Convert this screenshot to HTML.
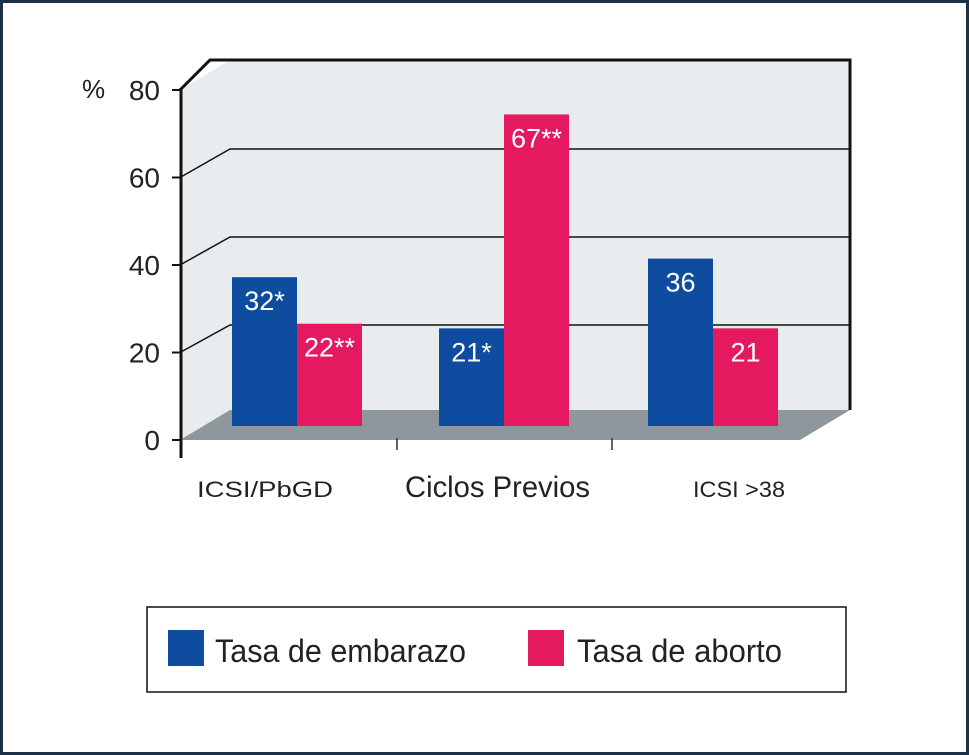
<!DOCTYPE html>
<html><head><meta charset="utf-8"><style>
body{margin:0;background:#fff}
svg{display:block;font-family:"Liberation Sans Narrow","Liberation Sans",sans-serif}
</style></head><body>
<svg id="c" width="969" height="755" viewBox="0 0 969 755">
<rect x="1.5" y="1.5" width="966" height="752" fill="#fff" stroke="#1c3148" stroke-width="3"/>
</svg>
<script>
const categories=["ICSI/PbGD","Ciclos Previos","ICSI >38"];
const embarazo=[32,21,36];
const aborto=[22,67,21];
const embarazoLabels=["32*","21*","36"];
const abortoLabels=["22**","67**","21"];
const yTicks=[0,20,40,60,80];
const svg=document.getElementById('c');
const NS='http://www.w3.org/2000/svg';
function el(t,a,txt){const e=document.createElementNS(NS,t);for(const k in a)e.setAttribute(k,a[k]);if(txt!=null)e.textContent=txt;svg.appendChild(e);return e;}
const yFront=v=>440-v*4.375;
const yBack=v=>413-v*4.4;
const yBar=v=>426-v*4.65;
let w=el('polygon',{points:"230,60 850,60 850,410 230,410 180,440 180,90",fill:"#e8ecef"});


yTicks.slice(1,4).forEach(v=>{
 let g=el('polyline',{points:`180,${yFront(v)} 230,${yBack(v)} 850,${yBack(v)}`,fill:"none",stroke:"#111","stroke-width":1.5});
 
 
});
let f=el('polygon',{points:"230,410 850,410 800,440 180,440",fill:"#8d979c"});


let fr=el('polyline',{points:`180,${yFront(80)} 210,60 850,60 850,410`,fill:"none",stroke:"#111","stroke-width":3});


let ax=el('line',{x1:181,y1:88,x2:181,y2:458,stroke:"#111","stroke-width":3});


yTicks.forEach(v=>{
 let t=el('line',{x1:172,y1:yFront(v),x2:181,y2:yFront(v),stroke:"#111","stroke-width":2});
 
 
 let l=el('text',{x:160,y:yFront(v)+10,"text-anchor":"end","font-size":28,fill:"#222"},v);
 
 
});
let pc=el('text',{x:82,y:98,"font-size":26,fill:"#222"},"%");


[397,612].forEach(x=>{let t=el('line',{x1:x,y1:438,x2:x,y2:450,stroke:"#333","stroke-width":1.5});
 
 });
const gx=[232,439,648], bw=65;
const catX=[197,405,693], catW=[136,185,92], catSize=[22,30,22];
categories.forEach((c,i)=>{
 let b=el('rect',{x:gx[i],y:yBar(embarazo[i]),width:bw,height:426-yBar(embarazo[i]),fill:"#0d4c9e"});
 
 
 let p=el('rect',{x:gx[i]+bw,y:yBar(aborto[i]),width:bw,height:426-yBar(aborto[i]),fill:"#e4195f"});
 
 
 let t1=el('text',{x:gx[i]+bw/2,y:yBar(embarazo[i])+33,"text-anchor":"middle","font-size":27,fill:"#fff"},embarazoLabels[i]);
 
 
 let t2=el('text',{x:gx[i]+bw*1.5,y:yBar(aborto[i])+33,"text-anchor":"middle","font-size":27,fill:"#fff"},abortoLabels[i]);
 
 
 let cl=el('text',{x:catX[i],y:497,"font-size":catSize[i],fill:"#222",textLength:catW[i],lengthAdjust:"spacingAndGlyphs"},c);
 
 
});
let lg=el('rect',{x:147,y:607,width:699,height:85,fill:"#fff",stroke:"#111","stroke-width":1.5});


let s1=el('rect',{x:168,y:630,width:36,height:36,fill:"#0d4c9e"});


let l1=el('text',{x:215,y:662,"font-size":32,fill:"#222",textLength:251,lengthAdjust:"spacingAndGlyphs"},"Tasa de embarazo");


let s2=el('rect',{x:528,y:630,width:36,height:36,fill:"#e4195f"});


let l2=el('text',{x:577,y:662,"font-size":32,fill:"#222",textLength:205,lengthAdjust:"spacingAndGlyphs"},"Tasa de aborto");


</script>
</body></html>
